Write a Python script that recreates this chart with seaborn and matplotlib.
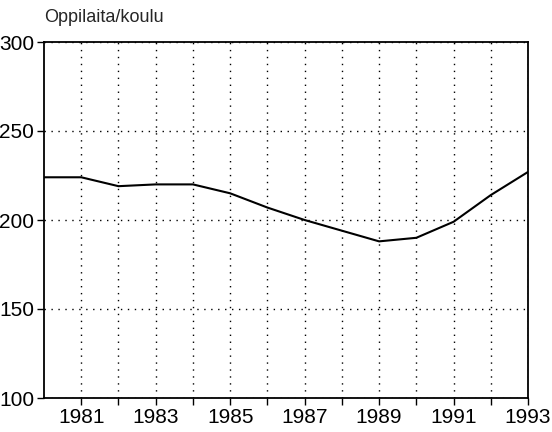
import matplotlib
matplotlib.use("Agg")
import matplotlib.pyplot as plt
import seaborn as sns
import pandas as pd

years = [1980, 1981, 1982, 1983, 1984, 1985, 1986, 1987, 1988, 1989, 1990, 1991, 1992, 1993]
pupils_per_school = [224, 224, 219, 220, 220, 215, 207, 200, 194, 188, 190, 199, 214, 227]
x_labels = ["1981", "1983", "1985", "1987", "1989", "1991", "1993"]
y_ticks = [100, 150, 200, 250, 300]

df = pd.DataFrame({"year": years, "value": pupils_per_school})

sns.set_style("white")
plt.rcParams["font.family"] = ["Liberation Sans", "DejaVu Sans"]

fig = plt.figure(figsize=(5.52, 4.32), dpi=100)
ax = fig.add_axes([44 / 552, 34 / 432, 484 / 552, 356 / 432])

sns.lineplot(data=df, x="year", y="value", color="black", linewidth=1.5, ax=ax)

ax.set_xlim(1980, 1993)
ax.set_ylim(100, 300)
ax.set_xticks(range(1981, 1994))
ax.set_xticklabels([str(y) if str(y) in x_labels else "" for y in range(1981, 1994)])
ax.set_yticks(y_ticks)
ax.set_yticklabels([str(v) for v in y_ticks])
ax.grid(True, linestyle=(0, (1, 4)), color="black", linewidth=1.0)
ax.tick_params(axis="both", bottom=True, left=True, direction="out", length=5, width=1,
               colors="black", labelsize=15, pad=2)
for s in ax.spines.values():
    s.set_color("black")
    s.set_linewidth(1.3)
ax.set_xlabel("")
ax.set_ylabel("")
fig.text(44 / 552, 1 - 18 / 432, "Oppilaita/koulu", fontsize=13, ha="left", va="center")

fig.savefig("out.png", dpi=100)
